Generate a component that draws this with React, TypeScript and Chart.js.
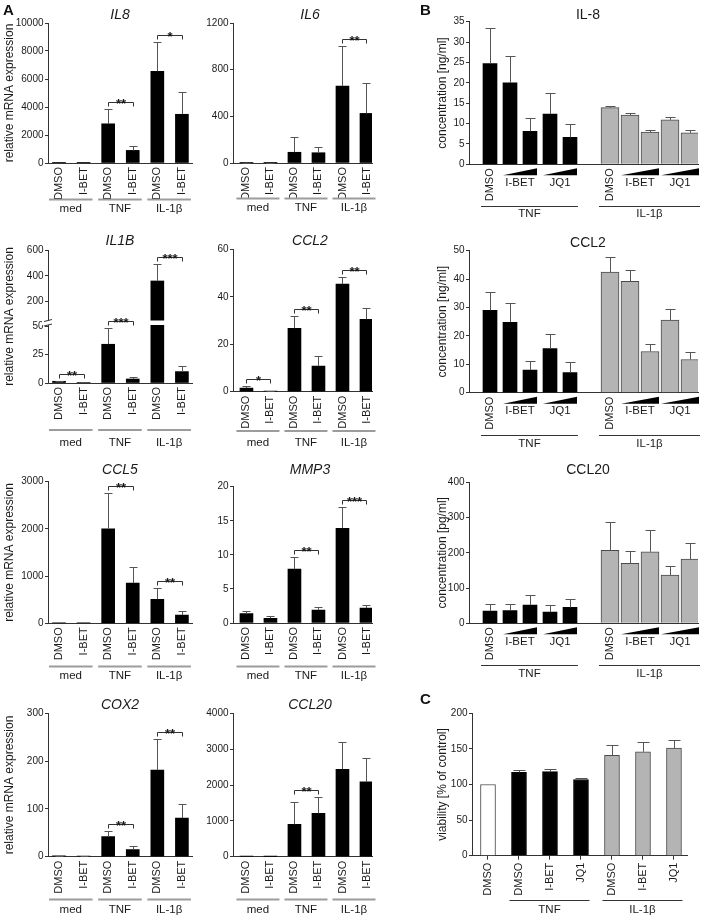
import React, { useEffect, useRef } from "react";
import { Chart, registerables } from "chart.js";

Chart.register(...registerables);

type Sig = [number, number, string];

// ================= DATA =================
// ---- Panel A: relative mRNA expression ----
const A_TREATMENTS = ["DMSO", "I-BET", "DMSO", "I-BET", "DMSO", "I-BET"];
const A_STIMULI = ["med", "TNF", "IL-1β"];
const A_Y_TITLE = "relative mRNA expression";

const IL8_MEAN = [1, 1, 2800, 900, 6550, 3480];
const IL8_SEM = [0, 0, 1080, 300, 2100, 1570];
const IL8_TICKS = [0, 2000, 4000, 6000, 8000, 10000];
const IL8_SIG: Sig[] = [[2, 3, "**"], [4, 5, "*"]];

const IL6_MEAN = [3, 2, 92, 88, 660, 425];
const IL6_SEM = [1, 1, 133, 45, 345, 257];
const IL6_TICKS = [0, 400, 800, 1200];
const IL6_SIG: Sig[] = [[4, 5, "**"]];

const IL1B_MEAN = [1.5, 0.5, 34, 3.5, 360, 10];
const IL1B_SEM = [0.4, 0.2, 14, 1.5, 130, 5];
const IL1B_LOW_TICKS = [0, 25, 50];
const IL1B_HIGH_TICKS = [200, 400, 600];
const IL1B_SIG: Sig[] = [[0, 1, "**"], [2, 3, "***"], [4, 5, "***"]];

const CCL2A_MEAN = [1.5, 0.3, 26.7, 10.8, 45.3, 30.5];
const CCL2A_SEM = [0.7, 0.1, 5, 4.3, 3.2, 4.6];
const CCL2A_TICKS = [0, 20, 40, 60];
const CCL2A_SIG: Sig[] = [[0, 1, "*"], [2, 3, "**"], [4, 5, "**"]];

const CCL5_MEAN = [5, 3, 2000, 850, 510, 175];
const CCL5_SEM = [0, 0, 760, 340, 230, 75];
const CCL5_TICKS = [0, 1000, 2000, 3000];
const CCL5_SIG: Sig[] = [[2, 3, "**"], [4, 5, "**"]];

const MMP3_MEAN = [1.4, 0.7, 7.9, 1.9, 13.9, 2.2];
const MMP3_SEM = [0.3, 0.3, 1.8, 0.5, 3.1, 0.4];
const MMP3_TICKS = [0, 5, 10, 15, 20];
const MMP3_SIG: Sig[] = [[2, 3, "**"], [4, 5, "***"]];

const COX2_MEAN = [2, 1, 42, 15, 181, 81];
const COX2_SEM = [0.5, 0.3, 12.5, 6.5, 66, 30];
const COX2_TICKS = [0, 100, 200, 300];
const COX2_SIG: Sig[] = [[2, 3, "**"], [4, 5, "**"]];

const CCL20A_MEAN = [5, 3, 900, 1210, 2440, 2090];
const CCL20A_SEM = [0, 0, 630, 450, 770, 660];
const CCL20A_TICKS = [0, 1000, 2000, 3000, 4000];
const CCL20A_SIG: Sig[] = [[2, 3, "**"]];

// ---- Panel B: secreted protein ----
const B_TREATMENTS = ["DMSO", "I-BET", "I-BET", "JQ1", "JQ1"];
const B_STIMULI = ["TNF", "IL-1β"];
const B_Y_TITLE_NG = "concentration [ng/ml]";
const B_Y_TITLE_PG = "concentration [pg/ml]";

const IL8P_TNF = [24.7, 20.0, 8.1, 12.3, 6.6];
const IL8P_TNF_SEM = [8.8, 6.5, 3.3, 5.2, 3.2];
const IL8P_IL1 = [13.9, 12.1, 7.9, 10.9, 7.7];
const IL8P_IL1_SEM = [0.4, 0.6, 0.6, 0.8, 0.6];
const IL8P_TICKS = [0, 5, 10, 15, 20, 25, 30, 35];

const CCL2P_TNF = [29, 24.8, 8, 15.5, 7.1];
const CCL2P_TNF_SEM = [6.5, 6.8, 3.3, 5.3, 3.7];
const CCL2P_IL1 = [42.5, 39.2, 14.5, 25.6, 11.7];
const CCL2P_IL1_SEM = [5.2, 4.1, 2.7, 3.9, 2.8];
const CCL2P_TICKS = [0, 10, 20, 30, 40, 50];

const CCL20P_TNF = [35, 36, 52, 32, 45];
const CCL20P_TNF_SEM = [19, 18, 27, 19, 25];
const CCL20P_IL1 = [207, 170, 203, 137, 182];
const CCL20P_IL1_SEM = [79, 35, 61, 26, 47];
const CCL20P_TICKS = [0, 100, 200, 300, 400];

// ---- Panel C: viability ----
const C_TREATMENTS = ["DMSO", "DMSO", "I-BET", "JQ1", "DMSO", "I-BET", "JQ1"];
const C_STIMULUS = ["", "TNF", "TNF", "TNF", "IL-1β", "IL-1β", "IL-1β"];
const C_VIABILITY = [100, 117, 118, 107, 141, 146, 151];
const C_SEM = [0, 3, 4, 2, 15, 13, 12];
const C_TICKS = [0, 50, 100, 150, 200];
const C_Y_TITLE = "viability [% of control]";

// ================= STYLE =================
const FONT = "'Liberation Sans', Arial, Helvetica, sans-serif";
const AXIS = "#333333";
const TEXT = "#1a1a1a";
const BLACK = "#000000";
const GRAY = "#b4b4b4";
const GRAY_EDGE = "#4a4a4a";
const WHITE = "#ffffff";
const ERR = "#555555";

type Series = { idx: number[]; mean: number[]; sem: number[]; fill: any; edge: any; edgeW: number; thick: number };
type Group = { label: string; from: number; to: number };
type Spec = {
  box: number[];
  plot: number[];
  xRange: number[];
  tickLabels: string[];
  yTicks?: number[];
  broken?: { lowTicks: number[]; highTicks: number[]; lowMax: number; highMin: number; highMax: number; lowW: number; highW: number };
  series: Series[];
  title: string;
  italic: boolean;
  titleX: number;
  titleY: number;
  yTitle?: string;
  yTitleX?: number;
  groups: Group[];
  gLine: { y: number; labelY: number; mode: "A" | "B" };
  sig?: Sig[];
  wedges?: Group[];
  xTicks?: boolean;
  cap: number;
};

function yPixer(chart: any, s: Spec) {
  if (s.broken) {
    const hi = chart.scales.y;
    const lo = chart.scales.y2;
    const m = s.broken.lowMax;
    return (v: number) => (v <= m ? lo.getPixelForValue(v) : hi.getPixelForValue(v));
  }
  const y = chart.scales.y;
  return (v: number) => y.getPixelForValue(v);
}

function makeChart(canvas: HTMLCanvasElement, s: Spec) {
  const [bx, by, bw, bh] = s.box;
  const [pl, pt, pr, pb] = s.plot;
  const tickFont = { family: FONT, size: 10 };
  const yCommon = (ticks: number[]) => ({
    type: "linear",
    position: "left",
    afterBuildTicks: (sc: any) => {
      sc.ticks = ticks.map((v) => ({ value: v }));
    },
    afterFit: (sc: any) => {
      sc.width = pl - bx;
    },
    ticks: { color: TEXT, font: tickFont, padding: 1.5, callback: (v: any) => String(v) },
    grid: { display: true, drawOnChartArea: false, drawTicks: true, tickLength: 3, color: AXIS, lineWidth: 1 },
    border: { display: true, color: AXIS, width: 1 },
  });

  const scales: any = {
    x: {
      type: "linear",
      position: "bottom",
      min: s.xRange[0],
      max: s.xRange[1],
      offset: false,
      afterBuildTicks: (sc: any) => {
        sc.ticks = s.tickLabels.map((_, i) => ({ value: i }));
      },
      afterFit: (sc: any) => {
        sc.height = by + bh - pb;
      },
      ticks: {
        autoSkip: false,
        minRotation: 90,
        maxRotation: 90,
        padding: s.xTicks ? 3 : 4,
        color: TEXT,
        font: { family: FONT, size: 11 },
        callback: (v: any) => s.tickLabels[Math.round(v)] ?? "",
      },
      grid: { display: true, offset: false, drawOnChartArea: false, drawTicks: !!s.xTicks, tickLength: 4, color: AXIS },
      border: { display: true, color: AXIS, width: 1 },
    },
  };

  const datasets: any[] = [];
  if (s.broken) {
    const br = s.broken;
    scales.y = { ...yCommon(br.highTicks), min: br.highMin, max: br.highMax, stack: "brk", stackWeight: br.highW, weight: 1 };
    scales.y2 = { ...yCommon(br.lowTicks), min: 0, max: br.lowMax, stack: "brk", stackWeight: br.lowW, weight: 0 };
    s.series.forEach((sr) => {
      datasets.push({
        data: sr.idx.map((x, i) => ({ x, y: Math.min(sr.mean[i], br.lowMax) })),
        yAxisID: "y2",
        backgroundColor: sr.fill,
        borderColor: sr.edge,
        borderWidth: sr.edgeW,
        barThickness: sr.thick,
        grouped: false,
      });
      datasets.push({
        data: sr.idx
          .map((x, i) => ({ x, y: [br.highMin, sr.mean[i]] }))
          .filter((d) => d.y[1] > br.lowMax),
        yAxisID: "y",
        backgroundColor: sr.fill,
        borderColor: sr.edge,
        borderWidth: sr.edgeW,
        barThickness: sr.thick,
        grouped: false,
      });
    });
  } else {
    const t = s.yTicks as number[];
    scales.y = { ...yCommon(t), min: t[0], max: t[t.length - 1] };
    s.series.forEach((sr) => {
      datasets.push({
        data: sr.idx.map((x, i) => ({ x, y: sr.mean[i] })),
        yAxisID: "y",
        backgroundColor: sr.fill,
        borderColor: sr.edge,
        borderWidth: sr.edgeW,
        barThickness: sr.thick,
        grouped: false,
      });
    });
  }

  const decor = {
    id: "decor",
    afterDatasetsDraw(chart: any) {
      const ctx = chart.ctx;
      const xs = chart.scales.x;
      const yp = yPixer(chart, s);
      ctx.save();
      ctx.strokeStyle = ERR;
      ctx.lineWidth = 1;
      s.series.forEach((sr) =>
        sr.idx.forEach((ix, i) => {
          const e = sr.sem[i];
          if (!e) return;
          const x = Math.round(xs.getPixelForValue(ix)) + 0.5;
          const y0 = yp(sr.mean[i]);
          const y1 = Math.round(yp(sr.mean[i] + e)) + 0.5;
          ctx.beginPath();
          ctx.moveTo(x, y0);
          ctx.lineTo(x, y1);
          ctx.moveTo(x - s.cap / 2, y1);
          ctx.lineTo(x + s.cap / 2, y1);
          ctx.stroke();
        })
      );
      ctx.restore();
    },
    afterDraw(chart: any) {
      const ctx = chart.ctx;
      const xs = chart.scales.x;
      const yp = yPixer(chart, s);
      const area = chart.chartArea;
      ctx.save();

      // axis break
      if (s.broken) {
        const j = chart.scales.y2.top;
        ctx.fillStyle = WHITE;
        ctx.fillRect(area.left - 6, j - 0.5, area.right - area.left + 6, 4.5);
        ctx.strokeStyle = AXIS;
        ctx.lineWidth = 1;
        ctx.beginPath();
        ctx.moveTo(area.left - 4, j + 0.5);
        ctx.lineTo(area.left + 4, j - 1.5);
        ctx.moveTo(area.left - 4, j + 5);
        ctx.lineTo(area.left + 4, j + 3);
        ctx.stroke();
      }

      // title
      ctx.fillStyle = TEXT;
      ctx.textAlign = "center";
      ctx.textBaseline = "middle";
      ctx.font = `${s.italic ? "italic " : ""}14px ${FONT}`;
      ctx.fillText(s.title, s.titleX - bx, s.titleY - by);

      // y title
      if (s.yTitle) {
        ctx.save();
        ctx.translate((s.yTitleX as number) - bx, (area.top + area.bottom) / 2);
        ctx.rotate(-Math.PI / 2);
        ctx.font = `12px ${FONT}`;
        ctx.fillText(s.yTitle, 0, 0);
        ctx.restore();
      }

      // groups
      const thickAt = (ix: number) => {
        for (const sr of s.series) if (sr.idx.includes(ix)) return sr.thick;
        return 14;
      };
      s.groups.forEach((g) => {
        const xa = xs.getPixelForValue(g.from);
        const xb = xs.getPixelForValue(g.to);
        let l: number, r: number;
        if (s.gLine.mode === "A") {
          ctx.strokeStyle = "#9c9c9c";
          ctx.lineWidth = 2;
          l = xa - 10;
          r = xb + 9;
        } else {
          ctx.strokeStyle = AXIS;
          ctx.lineWidth = 1;
          l = xa - thickAt(g.from) / 2 - 2;
          r = xb + thickAt(g.to) / 2 + 1;
        }
        const ly = s.gLine.mode === "A" ? s.gLine.y - by : Math.round(s.gLine.y - by) + 0.5;
        ctx.beginPath();
        ctx.moveTo(l, ly);
        ctx.lineTo(r, ly);
        ctx.stroke();
        ctx.fillStyle = TEXT;
        ctx.font = `11.5px ${FONT}`;
        ctx.textAlign = "center";
        ctx.textBaseline = "middle";
        ctx.fillText(g.label, (l + r) / 2, s.gLine.labelY - by);
      });

      // wedges (increasing concentration)
      if (s.wedges) {
        const ax = area.bottom;
        s.wedges.forEach((w) => {
          const xa = xs.getPixelForValue(w.from) - thickAt(w.from) / 2;
          const xb = xs.getPixelForValue(w.to) + thickAt(w.to) / 2;
          ctx.fillStyle = BLACK;
          ctx.beginPath();
          ctx.moveTo(xa, ax + 11);
          ctx.lineTo(xb, ax + 4);
          ctx.lineTo(xb, ax + 11);
          ctx.closePath();
          ctx.fill();
          ctx.fillStyle = TEXT;
          ctx.font = `11.5px ${FONT}`;
          ctx.textAlign = "center";
          ctx.textBaseline = "middle";
          ctx.fillText(w.label, (xa + xb) / 2, ax + 18.5);
        });
      }

      // significance brackets
      if (s.sig) {
        const sr = s.series[0];
        s.sig.forEach(([a, b, lab]) => {
          const xa = Math.round(xs.getPixelForValue(a)) + 0.5;
          const xb = Math.round(xs.getPixelForValue(b)) + 0.5;
          const top = Math.min(yp(sr.mean[a] + sr.sem[a]), yp(sr.mean[b] + sr.sem[b]));
          const y = Math.round(top - 7) + 0.5;
          ctx.strokeStyle = AXIS;
          ctx.lineWidth = 1;
          ctx.beginPath();
          ctx.moveTo(xa, y + 4);
          ctx.lineTo(xa, y);
          ctx.lineTo(xb, y);
          ctx.lineTo(xb, y + 4);
          ctx.stroke();
          ctx.fillStyle = TEXT;
          ctx.font = `bold 13px ${FONT}`;
          ctx.textAlign = "center";
          ctx.textBaseline = "alphabetic";
          ctx.fillText(lab, (xa + xb) / 2, y + 5);
        });
      }
      ctx.restore();
    },
  };

  return new Chart(canvas, {
    type: "bar",
    data: { datasets },
    options: {
      responsive: false,
      animation: false,
      events: [],
      layout: { padding: { left: 0, top: pt - by, right: bx + bw - pr, bottom: 0 } },
      plugins: { legend: { display: false }, tooltip: { enabled: false }, title: { display: false } },
      scales,
    } as any,
    plugins: [decor],
  } as any);
}

// ================= LAYOUT =================
const COL1 = { bx: 0, bw: 202, pl: 48, pr: 192, xRange: [-0.447, 5.41], titleX: 120 };
const COL2 = { bx: 200, bw: 185, pl: 233, pr: 372, xRange: [-0.56, 5.23], titleX: 310 };
const ROWS = [
  { by: 0, bh: 222 },
  { by: 226, bh: 226 },
  { by: 455, bh: 230 },
  { by: 688, bh: 230 },
];

const aGroups: Group[] = A_STIMULI.map((g, k) => ({ label: g, from: 2 * k, to: 2 * k + 1 }));

function specA(o: {
  col: any; row: number; title: string; mean: number[]; sem: number[]; ticks?: number[];
  sig: Sig[]; t: number; b: number; titleY: number; lineY: number; labelY: number; yTitle?: boolean; broken?: any;
}): Spec {
  const r = ROWS[o.row];
  return {
    box: [o.col.bx, r.by, o.col.bw, r.bh],
    plot: [o.col.pl, o.t, o.col.pr, o.b],
    xRange: o.col.xRange,
    tickLabels: A_TREATMENTS,
    yTicks: o.ticks,
    broken: o.broken,
    series: [{ idx: A_TREATMENTS.map((_, i) => i), mean: o.mean, sem: o.sem, fill: BLACK, edge: BLACK, edgeW: 0, thick: 13 }],
    title: o.title,
    italic: true,
    titleX: o.col.titleX,
    titleY: o.titleY,
    yTitle: o.yTitle ? A_Y_TITLE : undefined,
    yTitleX: 10,
    groups: aGroups,
    gLine: { y: o.lineY, labelY: o.labelY, mode: "A" },
    sig: o.sig,
    cap: 8,
  };
}

function specB(o: {
  row: number; title: string; tnf: number[]; tnfSem: number[]; il1: number[]; il1Sem: number[];
  ticks: number[]; t: number; b: number; titleY: number; lineY: number; labelY: number; yTitle: string;
}): Spec {
  const r = ROWS[o.row];
  const n = B_TREATMENTS.length;
  const idxT = B_TREATMENTS.map((_, i) => i);
  const idxI = B_TREATMENTS.map((_, i) => i + n + 1);
  const rot = B_TREATMENTS.map((t) => (t === "DMSO" ? t : ""));
  const wedges: Group[] = [];
  [0, n + 1].forEach((off) => {
    for (let k = 1; k < n; k++) {
      if (B_TREATMENTS[k] !== B_TREATMENTS[k - 1] && B_TREATMENTS[k] === B_TREATMENTS[k + 1]) {
        wedges.push({ label: B_TREATMENTS[k], from: off + k, to: off + k + 1 });
      }
    }
  });
  return {
    box: [415, r.by, 297, r.bh],
    plot: [469, o.t, 698, o.b],
    xRange: [-1.05, 10.4],
    tickLabels: [...rot, "", ...rot],
    yTicks: o.ticks,
    series: [
      { idx: idxT, mean: o.tnf, sem: o.tnfSem, fill: BLACK, edge: BLACK, edgeW: 0, thick: 14 },
      { idx: idxI, mean: o.il1, sem: o.il1Sem, fill: GRAY, edge: GRAY_EDGE, edgeW: 1, thick: 18 },
    ],
    title: o.title,
    italic: false,
    titleX: 588,
    titleY: o.titleY,
    yTitle: o.yTitle,
    yTitleX: 443,
    groups: [
      { label: B_STIMULI[0], from: idxT[0], to: idxT[n - 1] },
      { label: B_STIMULI[1], from: idxI[0], to: idxI[n - 1] },
    ],
    gLine: { y: o.lineY, labelY: o.labelY, mode: "B" },
    wedges,
    cap: 10,
  };
}

function specC(): Spec {
  const r = ROWS[3];
  const fills = C_STIMULUS.map((s) => (s === "" ? WHITE : s === "TNF" ? BLACK : GRAY));
  const edges = C_STIMULUS.map((s) => (s === "TNF" ? BLACK : GRAY_EDGE));
  const groups: Group[] = [];
  C_STIMULUS.forEach((s, i) => {
    if (!s) return;
    const last = groups[groups.length - 1];
    if (last && last.label === s) last.to = i;
    else groups.push({ label: s, from: i, to: i });
  });
  return {
    box: [415, r.by, 297, r.bh],
    plot: [472, 713.3, 687, 855.7],
    xRange: [-0.516, 6.42],
    tickLabels: C_TREATMENTS,
    yTicks: C_TICKS,
    series: [{ idx: C_TREATMENTS.map((_, i) => i), mean: C_VIABILITY, sem: C_SEM, fill: fills, edge: edges, edgeW: 1, thick: 15 }],
    title: "",
    italic: false,
    titleX: 580,
    titleY: 700,
    yTitle: C_Y_TITLE,
    yTitleX: 443,
    groups,
    gLine: { y: 900, labelY: 910, mode: "B" },
    xTicks: true,
    cap: 12,
  };
}

const SPECS: Spec[] = [
  specA({ col: COL1, row: 0, title: "IL8", mean: IL8_MEAN, sem: IL8_SEM, ticks: IL8_TICKS, sig: IL8_SIG, t: 23, b: 163, titleY: 15, lineY: 199.5, labelY: 208.5, yTitle: true }),
  specA({ col: COL2, row: 0, title: "IL6", mean: IL6_MEAN, sem: IL6_SEM, ticks: IL6_TICKS, sig: IL6_SIG, t: 23, b: 163, titleY: 15, lineY: 198.5, labelY: 208 }),
  specA({
    col: COL1, row: 1, title: "IL1B", mean: IL1B_MEAN, sem: IL1B_SEM, sig: IL1B_SIG, t: 250, b: 383, titleY: 241, lineY: 430, labelY: 443, yTitle: true,
    broken: { lowTicks: IL1B_LOW_TICKS, highTicks: IL1B_HIGH_TICKS, lowMax: 54.4, highMin: 50, highMax: 600, lowW: 62, highW: 71 },
  }),
  specA({ col: COL2, row: 1, title: "CCL2", mean: CCL2A_MEAN, sem: CCL2A_SEM, ticks: CCL2A_TICKS, sig: CCL2A_SIG, t: 249.3, b: 391.7, titleY: 241, lineY: 431, labelY: 443 }),
  specA({ col: COL1, row: 2, title: "CCL5", mean: CCL5_MEAN, sem: CCL5_SEM, ticks: CCL5_TICKS, sig: CCL5_SIG, t: 481.7, b: 623.3, titleY: 470, lineY: 666.5, labelY: 675.5, yTitle: true }),
  specA({ col: COL2, row: 2, title: "MMP3", mean: MMP3_MEAN, sem: MMP3_SEM, ticks: MMP3_TICKS, sig: MMP3_SIG, t: 486.7, b: 623, titleY: 470, lineY: 666.5, labelY: 675.5 }),
  specA({ col: COL1, row: 3, title: "COX2", mean: COX2_MEAN, sem: COX2_SEM, ticks: COX2_TICKS, sig: COX2_SIG, t: 713.3, b: 856.7, titleY: 705, lineY: 899.5, labelY: 909.5, yTitle: true }),
  specA({ col: COL2, row: 3, title: "CCL20", mean: CCL20A_MEAN, sem: CCL20A_SEM, ticks: CCL20A_TICKS, sig: CCL20A_SIG, t: 713.3, b: 856.7, titleY: 705, lineY: 899.5, labelY: 909.5 }),
  specB({ row: 0, title: "IL-8", tnf: IL8P_TNF, tnfSem: IL8P_TNF_SEM, il1: IL8P_IL1, il1Sem: IL8P_IL1_SEM, ticks: IL8P_TICKS, t: 21.7, b: 164.3, titleY: 15, lineY: 205.7, labelY: 214, yTitle: B_Y_TITLE_NG }),
  specB({ row: 1, title: "CCL2", tnf: CCL2P_TNF, tnfSem: CCL2P_TNF_SEM, il1: CCL2P_IL1, il1Sem: CCL2P_IL1_SEM, ticks: CCL2P_TICKS, t: 250.7, b: 392.7, titleY: 243, lineY: 434.5, labelY: 443.5, yTitle: B_Y_TITLE_NG }),
  specB({ row: 2, title: "CCL20", tnf: CCL20P_TNF, tnfSem: CCL20P_TNF_SEM, il1: CCL20P_IL1, il1Sem: CCL20P_IL1_SEM, ticks: CCL20P_TICKS, t: 482.3, b: 623.3, titleY: 470, lineY: 665, labelY: 674, yTitle: B_Y_TITLE_PG }),
  specC(),
];

function ChartBox({ spec }: { spec: Spec }) {
  const ref = useRef<HTMLCanvasElement>(null);
  useEffect(() => {
    const chart = makeChart(ref.current as HTMLCanvasElement, spec);
    return () => chart.destroy();
  }, [spec]);
  const [x, y, w, h] = spec.box;
  return (
    <canvas
      ref={ref}
      width={w}
      height={h}
      style={{ position: "absolute", left: x, top: y, width: w, height: h }}
    />
  );
}

const letterStyle = (left: number, top: number): any => ({
  position: "absolute",
  left,
  top,
  fontFamily: FONT,
  fontWeight: "bold",
  fontSize: 15,
  lineHeight: "17px",
  color: "#111",
});

export default function App() {
  return (
    <div style={{ position: "absolute", left: 0, top: 0, width: 712, height: 918, background: "#fff", overflow: "hidden" }}>
      {SPECS.map((s, i) => (
        <ChartBox key={i} spec={s} />
      ))}
      <div style={letterStyle(3, 1)}>A</div>
      <div style={letterStyle(420, 1)}>B</div>
      <div style={letterStyle(420, 690)}>C</div>
    </div>
  );
}
